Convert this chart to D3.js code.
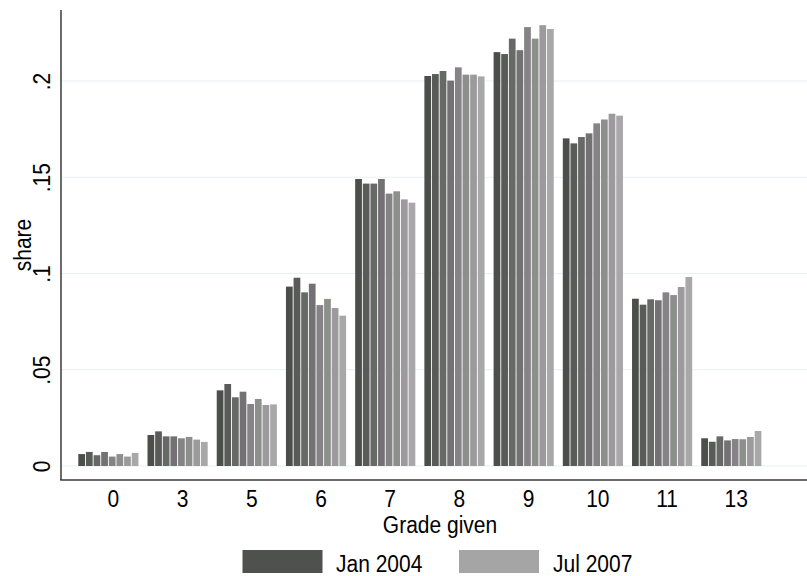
<!DOCTYPE html>
<html><head><meta charset="utf-8">
<script src="https://cdn.jsdelivr.net/npm/d3@7"></script>
<style>body{margin:0;background:#fff}svg{display:block}text{font-family:"Liberation Sans",Arial,sans-serif;fill:#000}</style>
</head><body><svg id="c" width="807" height="576"></svg>
<script>
const grades = ["0","3","5","6","7","8","9","10","11","13"];
const periods = ["Jan 2004","Jul 2004","Jan 2005","Jul 2005","Jan 2006","Jul 2006","Jan 2007","Jul 2007"];
const jan2004 = [0.0062,0.0161,0.0393,0.0932,0.1491,0.2026,0.2150,0.1702,0.0869,0.0144];
const jul2004 = [0.0073,0.0180,0.0426,0.0978,0.1467,0.2036,0.2140,0.1676,0.0838,0.0126];
const jan2005 = [0.0056,0.0154,0.0357,0.0902,0.1467,0.2052,0.2220,0.1709,0.0866,0.0154];
const jul2005 = [0.0073,0.0154,0.0386,0.0947,0.1491,0.2002,0.2160,0.1728,0.0861,0.0133];
const jan2006 = [0.0049,0.0144,0.0322,0.0836,0.1415,0.2071,0.2280,0.1780,0.0902,0.0140];
const jul2006 = [0.0062,0.0151,0.0348,0.0868,0.1427,0.2033,0.2220,0.1800,0.0888,0.0139];
const jan2007 = [0.0049,0.0137,0.0317,0.0821,0.1385,0.2033,0.2290,0.1830,0.0930,0.0151];
const jul2007 = [0.0068,0.0125,0.0320,0.0781,0.1368,0.2024,0.2270,0.1820,0.0982,0.0182];
const seriesValues = [jan2004,jul2004,jan2005,jul2005,jan2006,jul2006,jan2007,jul2007];
const yTicks = [0,0.05,0.1,0.15,0.2];
const yTickLabels = ["0",".05",".1",".15",".2"];
const legendItems = ["Jan 2004","Jul 2007"];

const colors = ["#4b4e4b","#5a5a5a","#676967","#737173","#858385","#8c8f8c","#9c9a9c","#a8a8a8"];
const legendColors = ["#4e514e","#a5a5a5"];
const FS = 21;   // font size
const SY = 1.1;  // vertical text stretch

const svg = d3.select("#c");
const axisLeftX = 61, axisBottomY = 480, plotTop = 10, plotRight = 807;
const x = d3.scaleBand().domain(grades).range([78.3, 762.3]).paddingInner(0.118).paddingOuter(0);
const xs = d3.scaleBand().domain(d3.range(8)).range([0, x.bandwidth()]).padding(0);
const y = d3.scaleLinear().domain([0, 0.2]).range([466, 81]);

// grid
svg.append("g").selectAll("line").data(yTicks).join("line")
  .attr("x1", axisLeftX).attr("x2", plotRight)
  .attr("y1", d => y(d)).attr("y2", d => y(d))
  .attr("stroke", "#eaeff3").attr("stroke-width", 1.2);

// bars
const gBars = svg.append("g");
grades.forEach((g, gi) => {
  seriesValues.forEach((vals, si) => {
    gBars.append("rect")
      .attr("x", x(g) + xs(si))
      .attr("y", y(vals[gi]))
      .attr("width", xs.bandwidth() - 0.9)
      .attr("height", y(0) - y(vals[gi]))
      .attr("fill", colors[si]);
  });
});

// axes lines
svg.append("line").attr("x1", axisLeftX).attr("x2", axisLeftX).attr("y1", plotTop).attr("y2", axisBottomY)
  .attr("stroke", "#3a3a3a").attr("stroke-width", 1.5);
svg.append("line").attr("x1", axisLeftX - 0.75).attr("x2", plotRight).attr("y1", axisBottomY).attr("y2", axisBottomY)
  .attr("stroke", "#3a3a3a").attr("stroke-width", 1.5);

// x axis labels via d3 axis
const xAxisG = svg.append("g").attr("transform", `translate(0,${axisBottomY})`)
  .call(d3.axisBottom(x).tickSize(0));
xAxisG.select(".domain").remove();
xAxisG.selectAll(".tick text")
  .attr("y", null).attr("dy", null)
  .attr("transform", `translate(4.5,27) scale(1,${SY})`)
  .attr("font-size", FS).attr("font-family", "Liberation Sans, Arial, sans-serif").attr("fill", "#000");

// y axis labels via d3 axis
const yAxisG = svg.append("g").attr("transform", `translate(${axisLeftX},0)`)
  .call(d3.axisLeft(y).tickValues(yTicks).tickSize(0).tickFormat((d,i) => yTickLabels[i]));
yAxisG.select(".domain").remove();
yAxisG.selectAll(".tick text")
  .attr("x", null).attr("dy", null).attr("y", null)
  .attr("text-anchor", "middle")
  .attr("transform", `translate(-11,0) rotate(-90) scale(1,${SY})`)
  .attr("font-size", FS).attr("font-family", "Liberation Sans, Arial, sans-serif").attr("fill", "#000");

// axis titles
svg.append("text").attr("text-anchor", "middle").attr("font-size", FS)
  .attr("transform", `translate(440,533) scale(1,${SY})`).text("Grade given");
svg.append("text").attr("text-anchor", "middle").attr("font-size", FS)
  .attr("transform", `translate(31,245) rotate(-90) scale(1,${SY})`).text("share");

// legend
const legX = [242.5, 459], legTextX = [336, 553];
legendItems.forEach((name, i) => {
  svg.append("rect").attr("x", legX[i]).attr("y", 550).attr("width", 80).attr("height", 23).attr("fill", legendColors[i]);
  svg.append("text").attr("font-size", FS)
    .attr("transform", `translate(${legTextX[i]},572) scale(1,${SY})`).text(name);
});
</script></body></html>
